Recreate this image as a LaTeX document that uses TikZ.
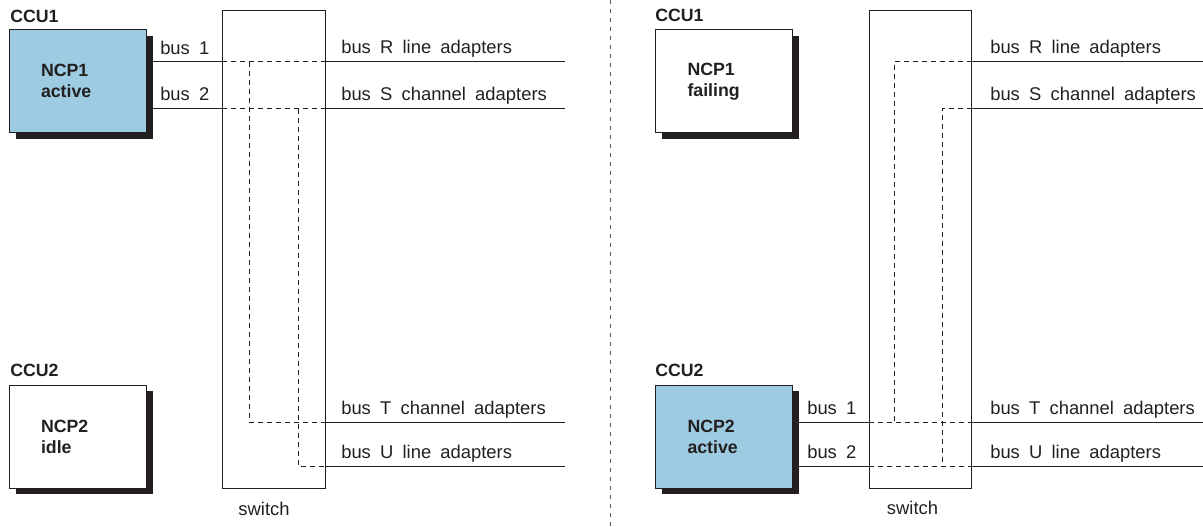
\documentclass[tikz,border=0pt]{standalone}
\usepackage{fontspec}
\setmainfont{Liberation Sans}[WordSpace=1.8]
\usetikzlibrary{shadows}
\definecolor{inkc}{HTML}{231F20}
\definecolor{ncpblue}{RGB}{157,203,225}

\begin{document}
\begin{tikzpicture}[
        x = 0.75pt, y = -0.75pt,
        every node/.style = {font=\fontsize{13.8}{16}\selectfont, text=inkc},
        headlbl/.style = {anchor=base west, inner sep=0pt, font=\fontsize{13.3}{15.75}\selectfont\bfseries},
        txtlbl/.style = {anchor=base west, inner sep=0pt},
        ncp/.style = {draw=inkc, line width=0.75pt, inner sep=0pt, inner xsep=24pt,
            text width=54.75pt, align=left, minimum height=76.9pt,
            font=\fontsize{13.3}{15.75}\selectfont\bfseries,
            drop shadow={shadow xshift=5pt, shadow yshift=-4.5pt, fill=inkc, opacity=1}},
        switchbox/.style = {draw=inkc, line width=0.75pt, inner sep=0pt,
            minimum width=77pt, minimum height=357.75pt},
        bus/.style = {draw=inkc, line width=0.75pt},
        link/.style = {draw=inkc, line width=0.75pt, dash pattern=on 3.75pt off 3pt},
        sep/.style = {draw=inkc!75, line width=0.75pt, dash pattern=on 3pt off 3.75pt},
		]
        \useasboundingbox (0,0) rectangle (1203,527);

        % Left: CCU1 active
        \node[headlbl] (ccuA1) at (10,23) {CCU1};
        \node[ncp, fill=ncpblue] (ncpA1) at (77.5,81.25) {NCP1\\active};
        \node[headlbl] (ccuA2) at (10,376) {CCU2};
        \node[ncp, fill=white] (ncpA2) at (77.5,436.75) {NCP2\\idle};

        % Left switch
        \node[switchbox] (swA) at (273.75,249.5) {};
        \node[anchor=base] (swlblA) at (264,515) {switch};

        % Left bus ends
        \coordinate (endAR) at (565,62);
        \coordinate (endAS) at (565,109);
        \coordinate (endAT) at (565,422);
        \coordinate (endAU) at (565,466);
        \coordinate (jA1) at (249,62);
        \coordinate (jA2) at (298,109);

        % Left buses
        \draw[bus] (ncpA1.east |- endAR) -- (swA.west |- endAR);
        \node[txtlbl] (busA1) at (160,55) {bus 1};
        \draw[bus] (ncpA1.east |- endAS) -- (swA.west |- endAS);
        \node[txtlbl] (busA2) at (160,101) {bus 2};
        \draw[bus] (swA.east |- endAR) -- (endAR);
        \node[txtlbl] (adAR) at (341,54) {bus R line adapters};
        \draw[bus] (swA.east |- endAS) -- (endAS);
        \node[txtlbl] (adAS) at (341,101) {bus S channel adapters};
        \draw[bus] (swA.east |- endAT) -- (endAT);
        \node[txtlbl] (adAT) at (341,414) {bus T channel adapters};
        \draw[bus] (swA.east |- endAU) -- (endAU);
        \node[txtlbl] (adAU) at (341,458) {bus U line adapters};

        % Left switch paths
        \draw[link] (swA.west |- endAR) -- (swA.east |- endAR);
        \draw[link] (swA.west |- endAS) -- (swA.east |- endAS);
        \draw[link] (jA1) -- (jA1 |- endAT) -- (swA.east |- endAT);
        \draw[link] (jA2) -- (jA2 |- endAU) -- (swA.east |- endAU);

        % Divider
        \draw[sep] (610,0) -- (610,527);

        % Right: CCU2 takes over
        \node[headlbl] (ccuB1) at (655,22) {CCU1};
        \node[ncp, fill=white] (ncpB1) at (724,81.25) {NCP1\\failing};
        \node[headlbl] (ccuB2) at (655,376) {CCU2};
        \node[ncp, fill=ncpblue] (ncpB2) at (724,436.75) {NCP2\\active};

        % Right switch
        \node[switchbox] (swB) at (920.5,249.5) {};
        \node[anchor=base] (swlblB) at (912.5,514) {switch};

        % Right bus ends
        \coordinate (endBR) at (1203,62);
        \coordinate (endBS) at (1203,109);
        \coordinate (endBT) at (1203,422);
        \coordinate (endBU) at (1203,466);
        \coordinate (jB1) at (894,62);
        \coordinate (jB2) at (942,109);

        % Right buses
        \draw[bus] (ncpB2.east |- endBT) -- (swB.west |- endBT);
        \node[txtlbl] (busB1) at (807,414) {bus 1};
        \draw[bus] (ncpB2.east |- endBU) -- (swB.west |- endBU);
        \node[txtlbl] (busB2) at (807,458) {bus 2};
        \draw[bus] (swB.east |- endBR) -- (endBR);
        \node[txtlbl] (adBR) at (990,54) {bus R line adapters};
        \draw[bus] (swB.east |- endBS) -- (endBS);
        \node[txtlbl] (adBS) at (990,101) {bus S channel adapters};
        \draw[bus] (swB.east |- endBT) -- (endBT);
        \node[txtlbl] (adBT) at (990,414) {bus T channel adapters};
        \draw[bus] (swB.east |- endBU) -- (endBU);
        \node[txtlbl] (adBU) at (990,458) {bus U line adapters};

        % Right switch paths
        \draw[link] (swB.west |- endBT) -- (swB.east |- endBT);
        \draw[link] (swB.west |- endBU) -- (swB.east |- endBU);
        \draw[link] (swB.east |- endBR) -- (jB1) -- (jB1 |- endBT);
        \draw[link] (swB.east |- endBS) -- (jB2) -- (jB2 |- endBU);
    \end{tikzpicture}
\end{document}
